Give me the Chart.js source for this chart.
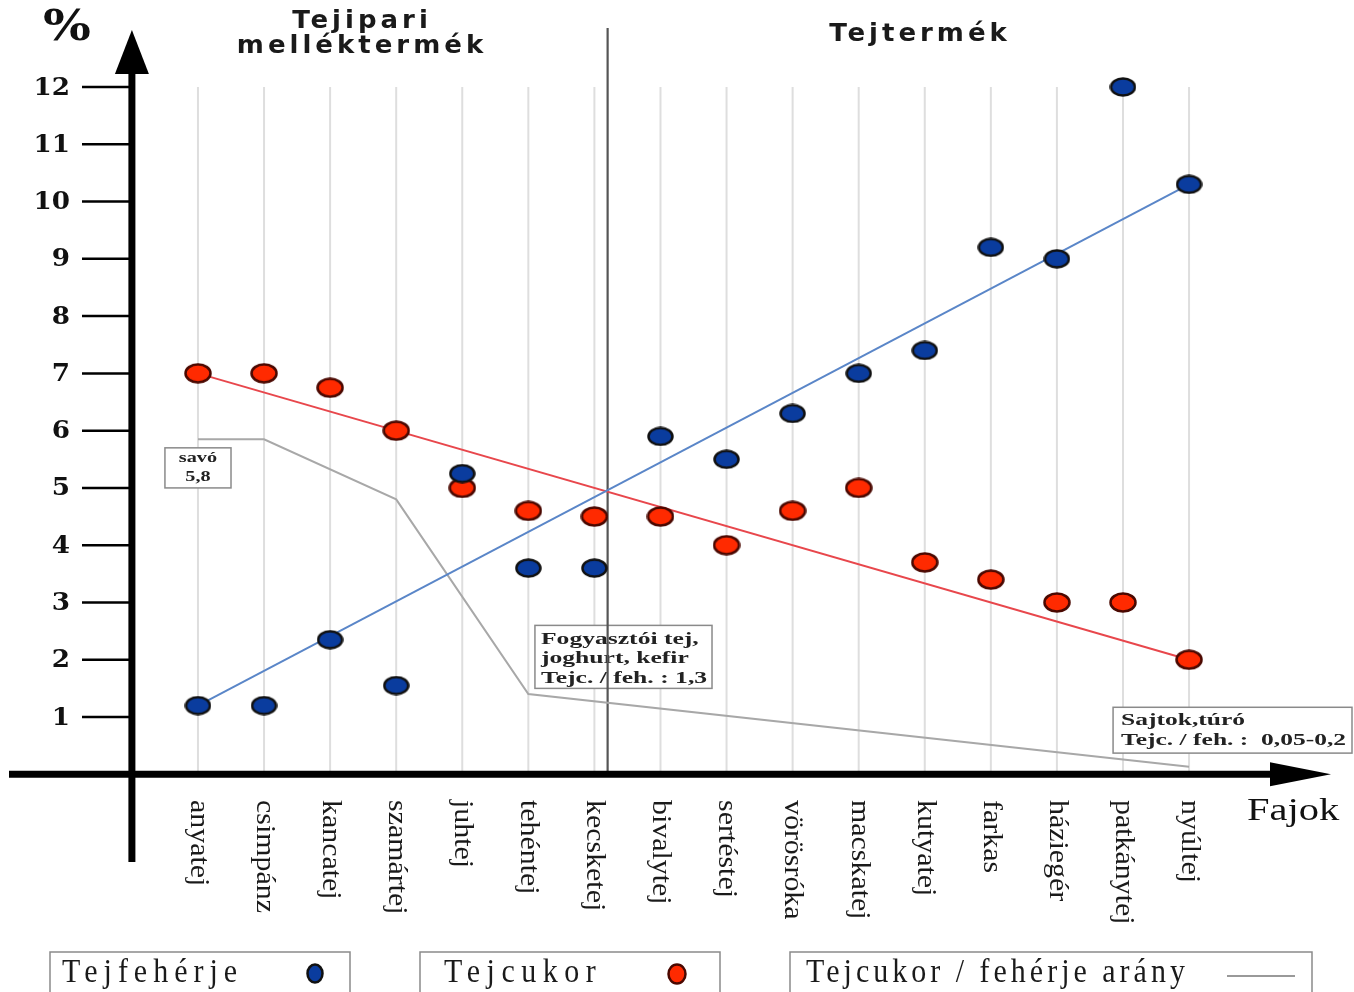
<!DOCTYPE html>
<html>
<head>
<meta charset="utf-8">
<script src="https://cdn.jsdelivr.net/npm/chart.js@4/dist/chart.umd.min.js"></script>
<style>
  html, body { margin: 0; padding: 0; background: #fff; }
  #grafikon { display: block; }
</style>
</head>
<body>
<canvas id="grafikon" width="1354" height="992"></canvas>
<script>
// fajok (x tengely) es az ertekek %-ban
var fajok = ["anyatej","csimpánz","kancatej","szamártej","juhtej","tehéntej","kecsketej","bivalytej",
             "sertéstej","vörösróka","macskatej","kutyatej","farkas","háziegér","patkánytej","nyúltej"];
var feherje = [1.2, 1.2, 2.35, 1.55, 5.25, 3.6, 3.6, 5.9, 5.5, 6.3, 7.0, 7.4, 9.2, 9.0, 12.0, 10.3];
var cukor   = [7.0, 7.0, 6.75, 6.0, 5.0, 4.6, 4.5, 4.5, 4.0, 4.6, 5.0, 3.7, 3.4, 3.0, 3.0, 2.0];
// trendvonalak (elso es utolso faj)
var trendX = [0, 15];
var feherjeTrend = [1.2, 10.3];
var cukorTrend = [7.0, 2.0];
// tejcukor / feherje arany vonal
var aranyX = [0, 1, 3, 5, 15];
var aranyY = [5.85, 5.85, 4.8, 1.4, 0.13];
var yTicks = [1,2,3,4,5,6,7,8,9,10,11,12];
var hatar = 6.2; // melléktermék / tejtermék valaszto

var KEK = "#0a3c9e", PIROS = "#ff2a00";

function pottyKep(fill, stroke, w, h){
    var c = document.createElement("canvas");
    c.width = w; c.height = h;
    var g = c.getContext("2d");
    g.beginPath();
    g.ellipse(w/2, h/2, w/2-1.5, h/2-1.5, 0, 0, Math.PI*2);
    g.fillStyle = fill; g.fill();
    g.lineWidth = 2.5; g.strokeStyle = stroke; g.stroke();
    return c;
}
var kekPotty = pottyKep(KEK, "#111", 27, 20);
var pirosPotty = pottyKep(PIROS, "#4a0800", 28, 21);

function pontok(xs, ys){
    var out = [];
    for (var i = 0; i < ys.length; i++) out.push({x: xs[i], y: ys[i]});
    return out;
}
var idx = fajok.map(function(f, i){ return i; });

function szoveg(ctx, t, x, y, font, sx, sy, align, base, ls){
    ctx.save();
    ctx.translate(x, y);
    ctx.scale(sx, sy);
    ctx.font = font;
    ctx.textAlign = align || "left";
    ctx.textBaseline = base || "middle";
    ctx.letterSpacing = (ls || 0) + "px";
    ctx.fillText(t, 0, 0);
    ctx.restore();
}

function doboz(ctx, x1, y1, x2, y2){
    ctx.save();
    ctx.fillStyle = "#fff";
    ctx.fillRect(x1, y1, x2-x1, y2-y1);
    ctx.strokeStyle = "#8a8a8a";
    ctx.lineWidth = 1.5;
    ctx.strokeRect(x1, y1, x2-x1, y2-y1);
    ctx.restore();
}

var hatter = {
    id: "hatter",
    beforeDatasetsDraw: function(chart){
        var ctx = chart.ctx, xs = chart.scales.x, ys = chart.scales.y;
        ctx.save();
        // racsvonalak
        ctx.strokeStyle = "#dedede";
        ctx.lineWidth = 2;
        for (var i = 0; i < fajok.length; i++){
            var px = xs.getPixelForValue(i);
            ctx.beginPath();
            ctx.moveTo(px, ys.getPixelForValue(12));
            ctx.lineTo(px, ys.getPixelForValue(0));
            ctx.stroke();
        }
        // feliratos dobozok
        ctx.fillStyle = "#222";
        doboz(ctx, xs.getPixelForValue(-0.5), ys.getPixelForValue(5.7), xs.getPixelForValue(0.5), ys.getPixelForValue(5.0));
        szoveg(ctx, "savó", xs.getPixelForValue(0), ys.getPixelForValue(5.52), "bold 15px 'Liberation Serif'", 1.35, 1, "center");
        szoveg(ctx, "5,8", xs.getPixelForValue(0), ys.getPixelForValue(5.18), "bold 15px 'Liberation Serif'", 1.35, 1, "center");

        var bx = xs.getPixelForValue(5.1), by = ys.getPixelForValue(2.6);
        doboz(ctx, bx, by, xs.getPixelForValue(7.78), ys.getPixelForValue(1.5));
        var l1 = ["Fogyasztói tej,", "joghurt, kefir", "Tejc. / feh. : 1,3"];
        for (var k = 0; k < l1.length; k++)
            szoveg(ctx, l1[k], bx + 6, by + 14 + k*19.5, "bold 16px 'Liberation Serif'", 1.6, 1.05, "left");

        var sx = xs.getPixelForValue(13.85), sy = ys.getPixelForValue(1.17);
        doboz(ctx, sx, sy, 1352, ys.getPixelForValue(0.37));
        szoveg(ctx, "Sajtok,túró", sx + 8, sy + 14, "bold 15px 'Liberation Serif'", 1.7, 1.05, "left");
        szoveg(ctx, "Tejc. / feh. :  0,05-0,2", sx + 8, sy + 34, "bold 15px 'Liberation Serif'", 1.7, 1.05, "left");

        // valaszto vonal
        ctx.strokeStyle = "#555";
        ctx.lineWidth = 2.2;
        ctx.beginPath();
        ctx.moveTo(xs.getPixelForValue(hatar), 28);
        ctx.lineTo(xs.getPixelForValue(hatar), ys.getPixelForValue(0));
        ctx.stroke();
        ctx.restore();
    },
    afterDatasetsDraw: function(chart){
        var ctx = chart.ctx, xs = chart.scales.x, ys = chart.scales.y;
        var x0 = xs.getPixelForValue(-1), y0 = ys.getPixelForValue(0);
        ctx.save();
        ctx.fillStyle = "#000";
        ctx.strokeStyle = "#000";
        // y tengely + nyil
        ctx.lineWidth = 7;
        ctx.beginPath(); ctx.moveTo(x0, 862); ctx.lineTo(x0, 70); ctx.stroke();
        ctx.beginPath(); ctx.moveTo(x0, 30); ctx.lineTo(x0-17, 74); ctx.lineTo(x0+17, 74); ctx.closePath(); ctx.fill();
        // x tengely + nyil
        ctx.beginPath(); ctx.moveTo(9, y0); ctx.lineTo(1275, y0); ctx.stroke();
        ctx.beginPath(); ctx.moveTo(1331, y0); ctx.lineTo(1270, y0-12); ctx.lineTo(1270, y0+12); ctx.closePath(); ctx.fill();
        // y osztasok
        ctx.lineWidth = 2.5;
        ctx.fillStyle = "#111";
        yTicks.forEach(function(v){
            var py = ys.getPixelForValue(v);
            ctx.beginPath(); ctx.moveTo(82, py); ctx.lineTo(x0, py); ctx.stroke();
            szoveg(ctx, String(v), 70, py + 1, "bold 25px 'DejaVu Serif'", 1.05, 1, "right");
        });
        szoveg(ctx, "%", 67, 29, "bold 48px 'DejaVu Serif'", 1.05, 0.9, "center");
        // fajnevek, lefele forgatva
        fajok.forEach(function(f, i){
            ctx.save();
            ctx.translate(xs.getPixelForValue(i), 800);
            ctx.rotate(Math.PI/2);
            ctx.scale(1.15, 1.05);
            ctx.font = "26px 'Liberation Serif'";
            ctx.textAlign = "left";
            ctx.textBaseline = "middle";
            ctx.fillStyle = "#1a1a1a";
            ctx.fillText(f, 0, 0);
            ctx.restore();
        });
        szoveg(ctx, "Fajok", 1247, 812, "30px 'Liberation Serif'", 1.35, 1.05, "left", "middle");
        // fejlecek
        ctx.fillStyle = "#1a1a1a";
        szoveg(ctx, "Tejipari", 362, 22, "bold 26px 'DejaVu Sans'", 1, 0.92, "center", "middle", 4);
        szoveg(ctx, "melléktermék", 362, 47, "bold 26px 'DejaVu Sans'", 1, 0.92, "center", "middle", 4);
        szoveg(ctx, "Tejtermék", 920, 35, "bold 26px 'DejaVu Sans'", 1, 0.92, "center", "middle", 4);
        // jelmagyarazat
        doboz(ctx, 50, 952, 350, 1000);
        doboz(ctx, 420, 952, 720, 1000);
        doboz(ctx, 790, 952, 1312, 1000);
        ctx.fillStyle = "#1a1a1a";
        szoveg(ctx, "Tejfehérje", 62, 973, "30px 'Liberation Serif'", 1, 1.15, "left", "middle", 6);
        szoveg(ctx, "Tejcukor", 444, 973, "30px 'Liberation Serif'", 1, 1.15, "left", "middle", 6.5);
        szoveg(ctx, "Tejcukor / fehérje arány", 806, 973, "30px 'Liberation Serif'", 1, 1.15, "left", "middle", 4);
        ctx.drawImage(pottyKep(KEK, "#111", 18, 21), 306, 963);
        ctx.drawImage(pottyKep(PIROS, "#4a0800", 20, 22), 667, 963);
        ctx.strokeStyle = "#999"; ctx.lineWidth = 2;
        ctx.beginPath(); ctx.moveTo(1227, 976); ctx.lineTo(1295, 976); ctx.stroke();
        ctx.restore();
    }
};

new Chart(document.getElementById("grafikon"), {
    type: "scatter",
    data: {
        datasets: [
            { label: "Tejfehérje", data: pontok(idx, feherje), pointStyle: kekPotty, order: 0, clip: false },
            { label: "Tejcukor", data: pontok(idx, cukor), pointStyle: pirosPotty, order: 0, clip: false },
            { label: "fehérje trend", data: pontok(trendX, feherjeTrend), showLine: true, pointRadius: 0,
              borderColor: "#5a86c8", borderWidth: 2, order: 1 },
            { label: "cukor trend", data: pontok(trendX, cukorTrend), showLine: true, pointRadius: 0,
              borderColor: "#e8474c", borderWidth: 2, order: 1 },
            { label: "Tejcukor / fehérje arány", data: pontok(aranyX, aranyY), showLine: true, pointRadius: 0,
              borderColor: "#a8a8a8", borderWidth: 2, order: 2, clip: false }
        ]
    },
    options: {
        responsive: false,
        animation: false,
        layout: { padding: { left: 131.9, right: 32.8, top: 87, bottom: 217.7 } },
        scales: {
            x: { type: "linear", min: -1, max: 17, display: false },
            y: { type: "linear", min: 0, max: 12, display: false }
        },
        plugins: { legend: { display: false }, tooltip: { enabled: false } }
    },
    plugins: [hatter]
});
</script>
</body>
</html>
